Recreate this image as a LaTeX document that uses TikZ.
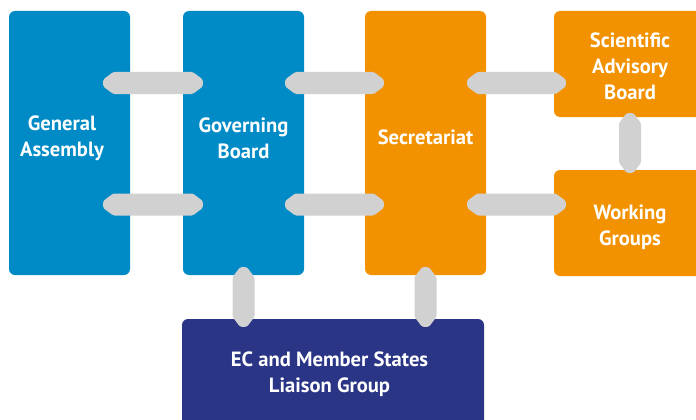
\documentclass[tikz,border=0pt]{standalone}
\usepackage{fontspec}
\setmainfont{PT Sans}
\usetikzlibrary{calc}

\definecolor{bodyblue}{HTML}{008BC6}
\definecolor{bodyorange}{HTML}{F39200}
\definecolor{liaisonnavy}{HTML}{2A3585}
\definecolor{linkgray}{HTML}{D1D1D1}

\begin{document}
\begin{tikzpicture}[
  x=1pt, y=-1pt,
  box/.style={rectangle, rounded corners=6pt, inner sep=0pt, fill=#1},
  txt/.style={align=center, text=white, font=\fontsize{20.6}{26}\selectfont\bfseries},
  hlink/.style={fill=linkgray, rounded corners=1.5pt, to path={
    let \p1=(\tikztostart), \p2=(\tikztotarget) in
    (\x1,\y1+3.5pt) -- (\x1+10pt,\y1+11pt) -- (\x2-10pt,\y2+11pt) -- (\x2,\y2+3.5pt)
    -- (\x2,\y2-3.5pt) -- (\x2-10pt,\y2-11pt) -- (\x1+10pt,\y1-11pt) -- (\x1,\y1-3.5pt) -- cycle}},
  vlink/.style={fill=linkgray, rounded corners=1.5pt, to path={
    let \p1=(\tikztostart), \p2=(\tikztotarget) in
    (\x1+3.5pt,\y1) -- (\x1+11pt,\y1-10pt) -- (\x2+11pt,\y2+10pt) -- (\x2+3.5pt,\y2)
    -- (\x2-3.5pt,\y2) -- (\x2-11pt,\y2+10pt) -- (\x1-11pt,\y1-10pt) -- (\x1-3.5pt,\y1) -- cycle}},
]
\clip (0,0) rectangle (696,420);
\useasboundingbox (0,0) rectangle (696,420);

% ---- bodies ----
\node[box=bodyblue, minimum width=121pt, minimum height=264pt] (ga) at (69.5,143) {};
\node[box=bodyblue, minimum width=121pt, minimum height=264pt] (gb) at (243.5,143) {};
\node[box=bodyorange, minimum width=121pt, minimum height=264pt] (sec) at (425.5,143) {};
\node[box=bodyorange, minimum width=152pt, minimum height=106pt] (sab) at (630,64) {};
\node[box=bodyorange, minimum width=152pt, minimum height=106pt] (wg) at (630,223) {};
\node[box=liaisonnavy, minimum width=302pt, minimum height=111pt] (ec) at (333,374.5) {};

% ---- names ----
\node[txt] (gatext) at (62,138) {General\\Assembly};
\node[txt] (gbtext) at (243.5,138) {Governing\\Board};
\node[txt] (sectext) at (425.5,137) {Secretariat};
\node[txt] (sabtext) at (630,66) {Scientific\\Advisory\\Board};
\node[txt] (wgtext) at (630,227) {Working\\Groups};
\node[txt] (ectext) at (329.5,374) {EC and Member States\\Liaison Group};

% ---- links ----
\coordinate (rowA) at (0,83);
\coordinate (rowB) at (0,204.5);
\fill[hlink] ([xshift=-27pt]ga.east |- rowA) to ([xshift=20pt]gb.west |- rowA);
\fill[hlink] ([xshift=-27pt]ga.east |- rowB) to ([xshift=20pt]gb.west |- rowB);
\fill[hlink] ([xshift=-19pt]gb.east |- rowA) to ([xshift=19pt]sec.west |- rowA);
\fill[hlink] ([xshift=-19pt]gb.east |- rowB) to ([xshift=19pt]sec.west |- rowB);
\fill[hlink] ([xshift=-19pt]sec.east |- rowA) to ([xshift=12pt]sab.west |- rowA);
\fill[hlink] ([xshift=-19pt]sec.east |- rowB) to ([xshift=12pt]wg.west |- rowB);
\fill[vlink] ($(sab.south)+(0,-4)$) to ($(wg.north)+(0,3)$);
\fill[vlink] ($(gb.south)+(0,-8)$) to ($(gb.south |- ec.north)+(0,8)$);
\fill[vlink] ($(sec.south)+(0,-8)$) to ($(sec.south |- ec.north)+(0,8)$);
\end{tikzpicture}
\end{document}
